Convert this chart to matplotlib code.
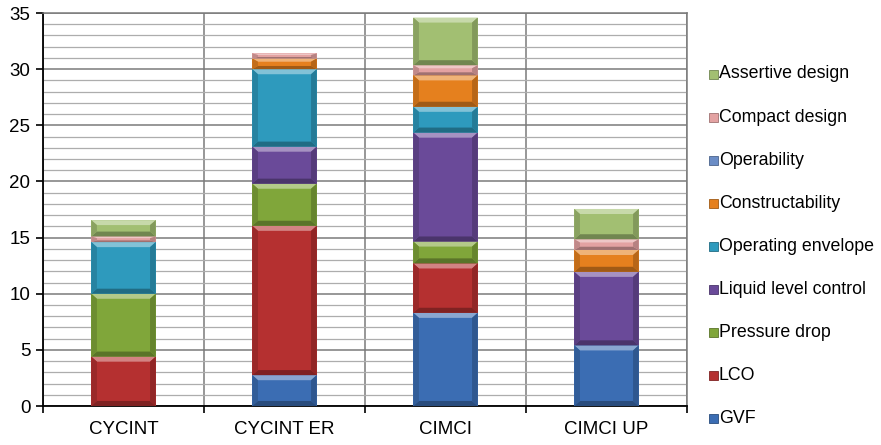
import numpy as np
import matplotlib.pyplot as plt
from matplotlib.patches import Rectangle, Polygon
from matplotlib.colors import to_rgb

plt.rcParams['font.family'] = ['Liberation Sans', 'DejaVu Sans']

categories = ['CYCINT', 'CYCINT ER', 'CIMCI', 'CIMCI UP']

# stacked from the bottom up
gvf = [0.0, 2.75, 8.3, 5.4]
lco = [4.4, 13.3, 4.4, 0.0]
pressure_drop = [5.6, 3.75, 1.95, 0.0]
liquid_level = [0.0, 3.3, 9.7, 6.55]
operating_env = [4.6, 6.9, 2.3, 0.0]
constructability = [0.0, 0.95, 2.8, 1.95]
operability = [0.0, 0.0, 0.0, 0.0]
compact = [0.5, 0.45, 0.9, 0.95]
assertive = [1.45, 0.0, 4.25, 2.7]

series = [
    ('GVF', gvf, '#3b6db3'),
    ('LCO', lco, '#b53030'),
    ('Pressure drop', pressure_drop, '#80a63a'),
    ('Liquid level control', liquid_level, '#6a4a99'),
    ('Operating envelope', operating_env, '#2e9abd'),
    ('Constructability', constructability, '#e5801e'),
    ('Operability', operability, '#6b8dc6'),
    ('Compact design', compact, '#e3a2a2'),
    ('Assertive design', assertive, '#a2bf72'),
]


def shade(c, f):
    r = np.array(to_rgb(c))
    if f > 0:
        return tuple(r + (1 - r) * f)
    return tuple(r * (1 + f))


def bevel_bar(ax, x, bottom, h, w, color):
    if h <= 0:
        return
    x0, x1 = x - w / 2, x + w / 2
    y0, y1 = bottom, bottom + h
    bx = 0.035
    by = min(0.45, h * 0.3)
    ax.add_patch(Rectangle((x0, y0), w, h, facecolor=color, edgecolor='none', zorder=3))
    # bevelled edges: light on top, dark at the sides and bottom
    ax.add_patch(Polygon([(x0, y1), (x1, y1), (x1 - bx, y1 - by), (x0 + bx, y1 - by)],
                         facecolor=shade(color, 0.4), edgecolor='none', zorder=4))
    ax.add_patch(Polygon([(x0, y0), (x1, y0), (x1 - bx, y0 + by), (x0 + bx, y0 + by)],
                         facecolor=shade(color, -0.3), edgecolor='none', zorder=4))
    ax.add_patch(Polygon([(x0, y0), (x0 + bx, y0 + by), (x0 + bx, y1 - by), (x0, y1)],
                         facecolor=shade(color, -0.15), edgecolor='none', zorder=4))
    ax.add_patch(Polygon([(x1, y0), (x1 - bx, y0 + by), (x1 - bx, y1 - by), (x1, y1)],
                         facecolor=shade(color, -0.2), edgecolor='none', zorder=4))


fig = plt.figure(figsize=(8.81, 4.45), dpi=100)
ax = fig.add_axes([0.0488, 0.0876, 0.7310, 0.8831])

x = np.arange(len(categories))
width = 0.4
bottom = np.zeros(len(categories))
for name, vals, color in series:
    for i in range(len(categories)):
        bevel_bar(ax, x[i], bottom[i], vals[i], width, color)
    bottom += np.array(vals)

ax.set_xlim(-0.5, 3.5)
ax.set_ylim(0, 35)

ax.set_yticks(np.arange(0, 36, 5))
ax.set_yticks(np.arange(0, 36, 1), minor=True)
ax.set_xticks(x)
ax.set_xticklabels(categories)
ax.set_xticks([-0.5, 0.5, 1.5, 2.5, 3.5], minor=True)

ax.grid(axis='y', which='major', color='#7a7a7a', linewidth=1.1, zorder=1)
ax.grid(axis='y', which='minor', color='#adadad', linewidth=0.9, zorder=1)
ax.grid(axis='x', which='minor', color='#7a7a7a', linewidth=1.1, zorder=1)
ax.set_axisbelow(True)

ax.tick_params(axis='y', which='major', direction='out', length=5, width=1.2,
               labelsize=13.5, pad=4, colors='black')
ax.tick_params(axis='y', which='minor', length=0)
ax.tick_params(axis='x', which='major', length=0, labelsize=13.5, pad=11)
ax.tick_params(axis='x', which='minor', direction='out', length=5, width=1.2)

for s in ['left', 'bottom']:
    ax.spines[s].set_color('black')
    ax.spines[s].set_linewidth(1.3)
for s in ['top', 'right']:
    ax.spines[s].set_color('#7a7a7a')
    ax.spines[s].set_linewidth(1.1)

# legend, top entry is the last series
ys = 74
step = 43.1
for k, (name, vals, color) in enumerate(reversed(series)):
    ypx = ys + k * step
    yf = 1 - ypx / 445
    fig.patches.append(Rectangle((709 / 881, yf - 4.5 / 445), 9 / 881, 9 / 445,
                                 transform=fig.transFigure, facecolor=color,
                                 edgecolor=shade(color, -0.3), linewidth=0.6))
    fig.text(719 / 881, yf, name, fontsize=12.8, va='center', ha='left')

fig.savefig('out.png', dpi=100)
